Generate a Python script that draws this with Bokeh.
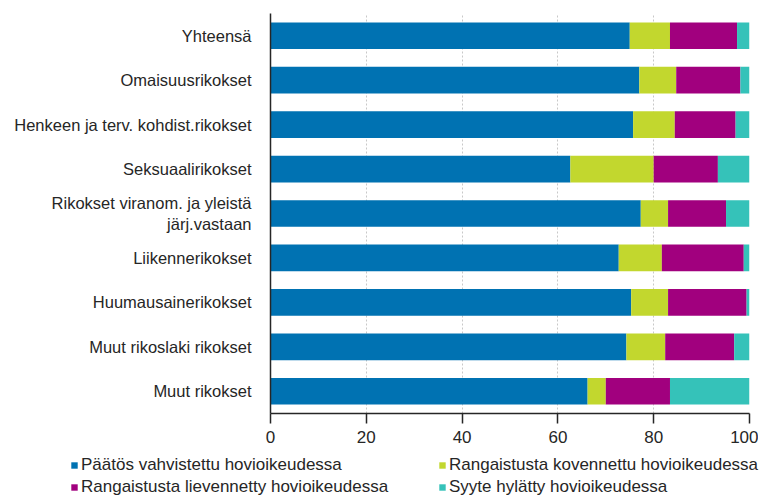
from bokeh.plotting import figure
from bokeh.layouts import column, row
from bokeh.models import FactorRange, Range1d, Legend, LegendItem, FixedTicker, ColumnDataSource
from bokeh.embed import file_html
from bokeh.resources import INLINE

categories = ["Yhteensä", "Omaisuusrikokset", "Henkeen ja terv. kohdist.rikokset",
              "Seksuaalirikokset", "Rikokset viranom. ja yleistä\njärj.vastaan",
              "Liikennerikokset", "Huumausainerikokset", "Muut rikoslaki rikokset",
              "Muut rikokset"]
vahvistettu = [75.0, 77.0, 75.7, 62.6, 77.3, 72.7, 75.3, 74.3, 66.2]
kovennettu = [8.4, 7.7, 8.7, 17.4, 5.7, 9.0, 7.7, 8.1, 3.8]
lievennetty = [14.0, 13.4, 12.7, 13.4, 12.1, 17.1, 16.4, 14.4, 13.4]
hylatty = [2.6, 1.9, 2.9, 6.6, 4.9, 1.2, 0.6, 3.2, 16.6]
series_names = ["Päätös vahvistettu hovioikeudessa", "Rangaistusta kovennettu hovioikeudessa",
                "Rangaistusta lievennetty hovioikeudessa", "Syyte hylätty hovioikeudessa"]
x_ticks = [0, 20, 40, 60, 80, 100]

colors = ["#0072b2", "#c2d72e", "#a1007e", "#35c2b9"]
keys = ["v", "k", "l", "h"]
src = ColumnDataSource(dict(cat=categories, v=vahvistettu, k=kovennettu, l=lievennetty, h=hylatty))

FONT = "Liberation Sans"
TXT = "#262626"

p = figure(width=758, height=450, output_backend="svg", toolbar_location=None,
           y_range=FactorRange(factors=list(reversed(categories)), range_padding=0),
           x_range=Range1d(0, 100),
           min_border_left=270, min_border_right=9, min_border_top=13, min_border_bottom=37)
p.outline_line_color = None

renderers = p.hbar_stack(keys, y="cat", height=0.6, color=colors, source=src, line_color=None)

p.ygrid.grid_line_color = None
p.xgrid.grid_line_color = "#c8c8c8"
p.xgrid.grid_line_dash = "2 2"
p.xgrid.ticker = FixedTicker(ticks=x_ticks)

p.xaxis.ticker = FixedTicker(ticks=x_ticks)
p.xaxis.axis_line_color = TXT
p.xaxis.axis_line_width = 1.5
p.xaxis.major_tick_line_color = TXT
p.xaxis.major_tick_line_width = 1.5
p.xaxis.major_tick_out = 10
p.xaxis.major_tick_in = 0
p.xaxis.minor_tick_line_color = None
p.xaxis.major_label_standoff = 7
p.xaxis.major_label_text_font = FONT
p.xaxis.major_label_text_font_size = "17px"
p.xaxis.major_label_text_color = TXT

p.yaxis.axis_line_color = TXT
p.yaxis.axis_line_width = 1.5
p.yaxis.major_tick_line_color = None
p.yaxis.minor_tick_line_color = None
p.yaxis.major_label_standoff = 13
p.yaxis.major_label_text_font = FONT
p.yaxis.major_label_text_font_size = "16.5px"
p.yaxis.major_label_text_color = TXT

# legend figure below the chart
pl = figure(width=766, height=46, output_backend="svg", toolbar_location=None,
            x_range=Range1d(0, 1), y_range=Range1d(0, 1),
            min_border_left=0, min_border_right=0, min_border_top=0, min_border_bottom=0)
pl.outline_line_color = None
pl.border_fill_color = None
pl.axis.visible = False
pl.grid.grid_line_color = None
leg_src = ColumnDataSource(dict(y=[0.5], right=[0]))
leg_renderers = [pl.hbar(y="y", right="right", height=0.0, color=c, line_color=None, source=leg_src)
                 for c in colors]

order = [0, 2, 1, 3]
legend = Legend(items=[LegendItem(label=series_names[i], renderers=[leg_renderers[i]]) for i in order],
                location=(70, -1), ncols=2, orientation="vertical",
                padding=0, margin=0, spacing=2, label_standoff=3, label_width=355,
                glyph_width=8, glyph_height=8, label_height=20,
                label_text_font=FONT, label_text_font_size="17px", label_text_color=TXT,
                background_fill_alpha=0, border_line_color=None)
pl.add_layout(legend, "center")

layout = column(p, row(pl), spacing=0)
open("out.html", "w").write(file_html(layout, INLINE))
